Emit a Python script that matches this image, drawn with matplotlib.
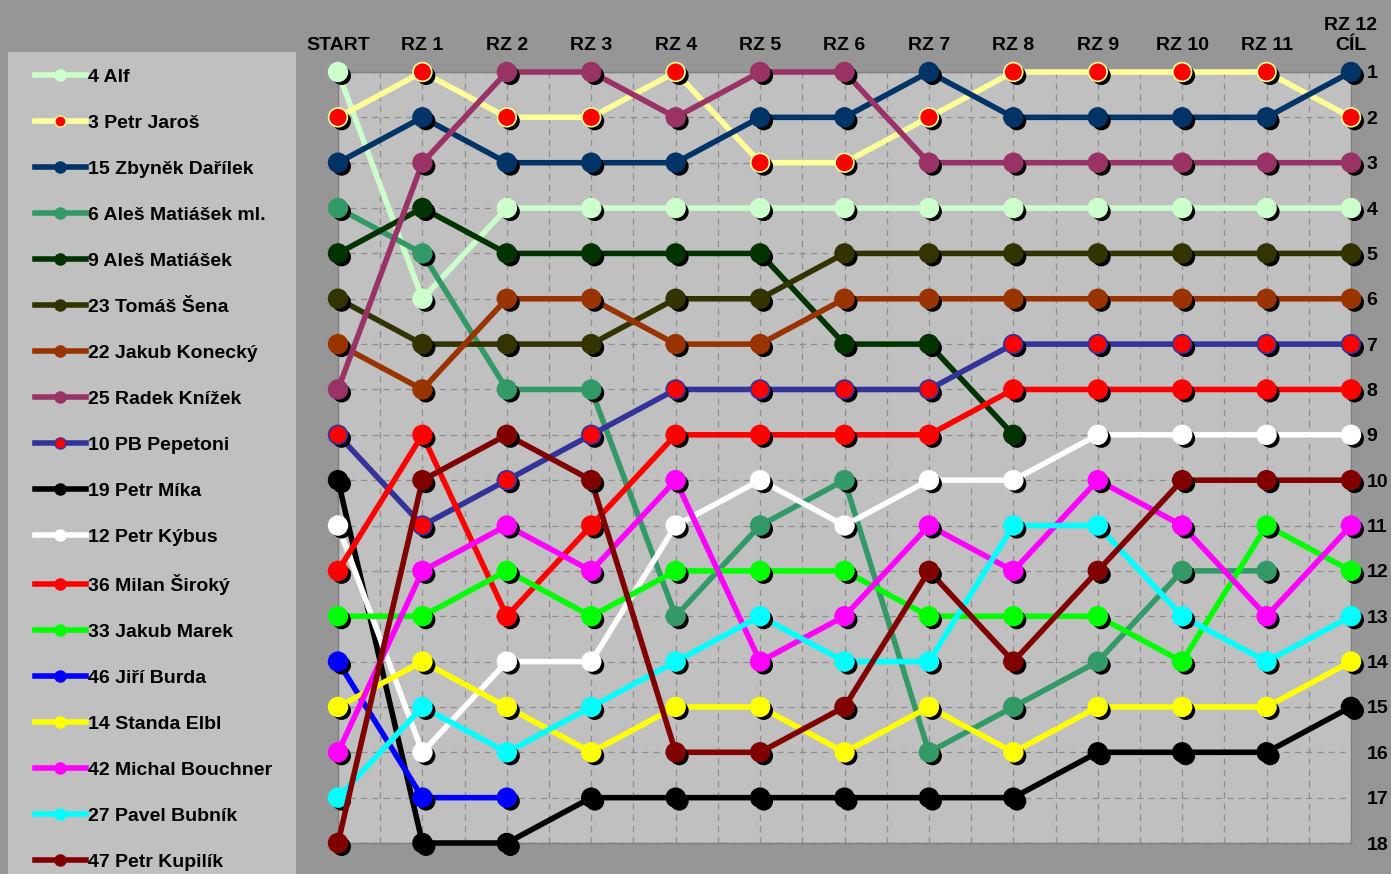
import numpy as np
import matplotlib
matplotlib.use("Agg")
import matplotlib.pyplot as plt
from matplotlib.lines import Line2D
from matplotlib.patches import Rectangle
import matplotlib.patheffects as pe

plt.rcParams['font.family'] = ['Liberation Sans', 'DejaVu Sans']
plt.rcParams['font.weight'] = 'bold'

# Stages (x axis, shown at the top)
stages = ["START", "RZ 1", "RZ 2", "RZ 3", "RZ 4", "RZ 5", "RZ 6",
          "RZ 7", "RZ 8", "RZ 9", "RZ 10", "RZ 11", "RZ 12\nCÍL"]

# Drivers, in legend order
drivers = ["4 Alf", "3 Petr Jaroš", "15 Zbyněk Dařílek", "6 Aleš Matiášek ml.",
           "9 Aleš Matiášek", "23 Tomáš Šena", "22 Jakub Konecký", "25 Radek Knížek",
           "10 PB Pepetoni", "19 Petr Míka", "12 Petr Kýbus", "36 Milan Široký",
           "33 Jakub Marek", "46 Jiří Burda", "14 Standa Elbl", "42 Michal Bouchner",
           "27 Pavel Bubník", "47 Petr Kupilík"]

# Position after each stage (None = retired)
positions = [
    [1, 6, 4, 4, 4, 4, 4, 4, 4, 4, 4, 4, 4],
    [2, 1, 2, 2, 1, 3, 3, 2, 1, 1, 1, 1, 2],
    [3, 2, 3, 3, 3, 2, 2, 1, 2, 2, 2, 2, 1],
    [4, 5, 8, 8, 13, 11, 10, 16, 15, 14, 12, 12, None],
    [5, 4, 5, 5, 5, 5, 7, 7, 9, None, None, None, None],
    [6, 7, 7, 7, 6, 6, 5, 5, 5, 5, 5, 5, 5],
    [7, 8, 6, 6, 7, 7, 6, 6, 6, 6, 6, 6, 6],
    [8, 3, 1, 1, 2, 1, 1, 3, 3, 3, 3, 3, 3],
    [9, 11, 10, 9, 8, 8, 8, 8, 7, 7, 7, 7, 7],
    [10, 18, 18, 17, 17, 17, 17, 17, 17, 16, 16, 16, 15],
    [11, 16, 14, 14, 11, 10, 11, 10, 10, 9, 9, 9, 9],
    [12, 9, 13, 11, 9, 9, 9, 9, 8, 8, 8, 8, 8],
    [13, 13, 12, 13, 12, 12, 12, 13, 13, 13, 14, 11, 12],
    [14, 17, 17, None, None, None, None, None, None, None, None, None, None],
    [15, 14, 15, 16, 15, 15, 16, 15, 16, 15, 15, 15, 14],
    [16, 12, 11, 12, 10, 14, 13, 11, 12, 10, 11, 13, 11],
    [17, 15, 16, 15, 14, 13, 14, 14, 11, 11, 13, 14, 13],
    [18, 10, 9, 10, 16, 16, 15, 12, 14, 12, 10, 10, 10],
]

line_colors = ["#CCFFCC", "#FFFF99", "#003366", "#339966", "#003300", "#333300",
               "#993300", "#993366", "#333399", "#000000", "#FFFFFF", "#FF0000",
               "#00FF00", "#0000FF", "#FFFF00", "#FF00FF", "#00FFFF", "#800000"]
marker_faces = list(line_colors)
marker_faces[1] = "#FF0000"
marker_faces[8] = "#FF0000"

fig = plt.figure(figsize=(13.91, 8.74), dpi=100, facecolor="#969696")

# legend panel background
fig.patches.append(Rectangle((8 / 1391, -0.05), 288 / 1391, 1 - 52 / 874 + 0.05,
                             transform=fig.transFigure, facecolor="#C0C0C0",
                             edgecolor="none", zorder=0))

ax = fig.add_axes([338 / 1391, 1 - 843 / 874, (1351 - 338) / 1391, (843 - 72) / 874])
ax.set_facecolor("#C0C0C0")

x = np.arange(len(stages))
shadow = [pe.SimplePatchShadow(offset=(2.6, -2.6), shadow_rgbFace="black", alpha=1.0),
          pe.Normal()]

handles = []
for i, name in enumerate(drivers):
    y = np.array([np.nan if v is None else v for v in positions[i]], dtype=float)
    ax.plot(x, y, color=line_colors[i], lw=4, clip_on=False, zorder=3 + i * 0.01,
            solid_joinstyle="round")
    ax.plot(x, y, ls="none", marker="o", ms=13.5, mfc=marker_faces[i],
            mec=line_colors[i], mew=1.2, clip_on=False, zorder=3 + i * 0.01 + 0.005,
            path_effects=shadow)
    handles.append(Line2D([], [], color=line_colors[i], lw=4, marker="o", ms=8,
                          mfc=marker_faces[i], mec=line_colors[i], mew=1))

ax.set_xlim(0, len(stages) - 1)
ax.set_ylim(18, 1)
ax.set_xticks(x)
ax.set_xticklabels(stages)
ax.set_xticks(np.arange(0.5, len(stages) - 1, 1.0), minor=True)
ax.set_yticks(np.arange(1, 19))
ax.xaxis.tick_top()
ax.yaxis.tick_right()
ax.tick_params(axis="x", which="both", length=0, pad=13, labelsize=14)
ax.tick_params(axis="y", length=0, pad=11, labelsize=14)
for lab in ax.get_yticklabels():
    lab.set_horizontalalignment("left")
ax.grid(True, which="both", color="#8e8e8e", lw=0.9, ls=(0, (5, 4)))
ax.set_axisbelow(True)
for s in ax.spines.values():
    s.set_color("#808080")
    s.set_linewidth(1)

fig.legend(handles, drivers, loc="upper left", bbox_to_anchor=(35 / 1391, 1 - 68 / 874),
           frameon=False, fontsize=14, handlelength=2.6, handletextpad=0.15,
           labelspacing=1.46, borderpad=0, borderaxespad=0)

fig.savefig("out.png", dpi=100, facecolor=fig.get_facecolor())
